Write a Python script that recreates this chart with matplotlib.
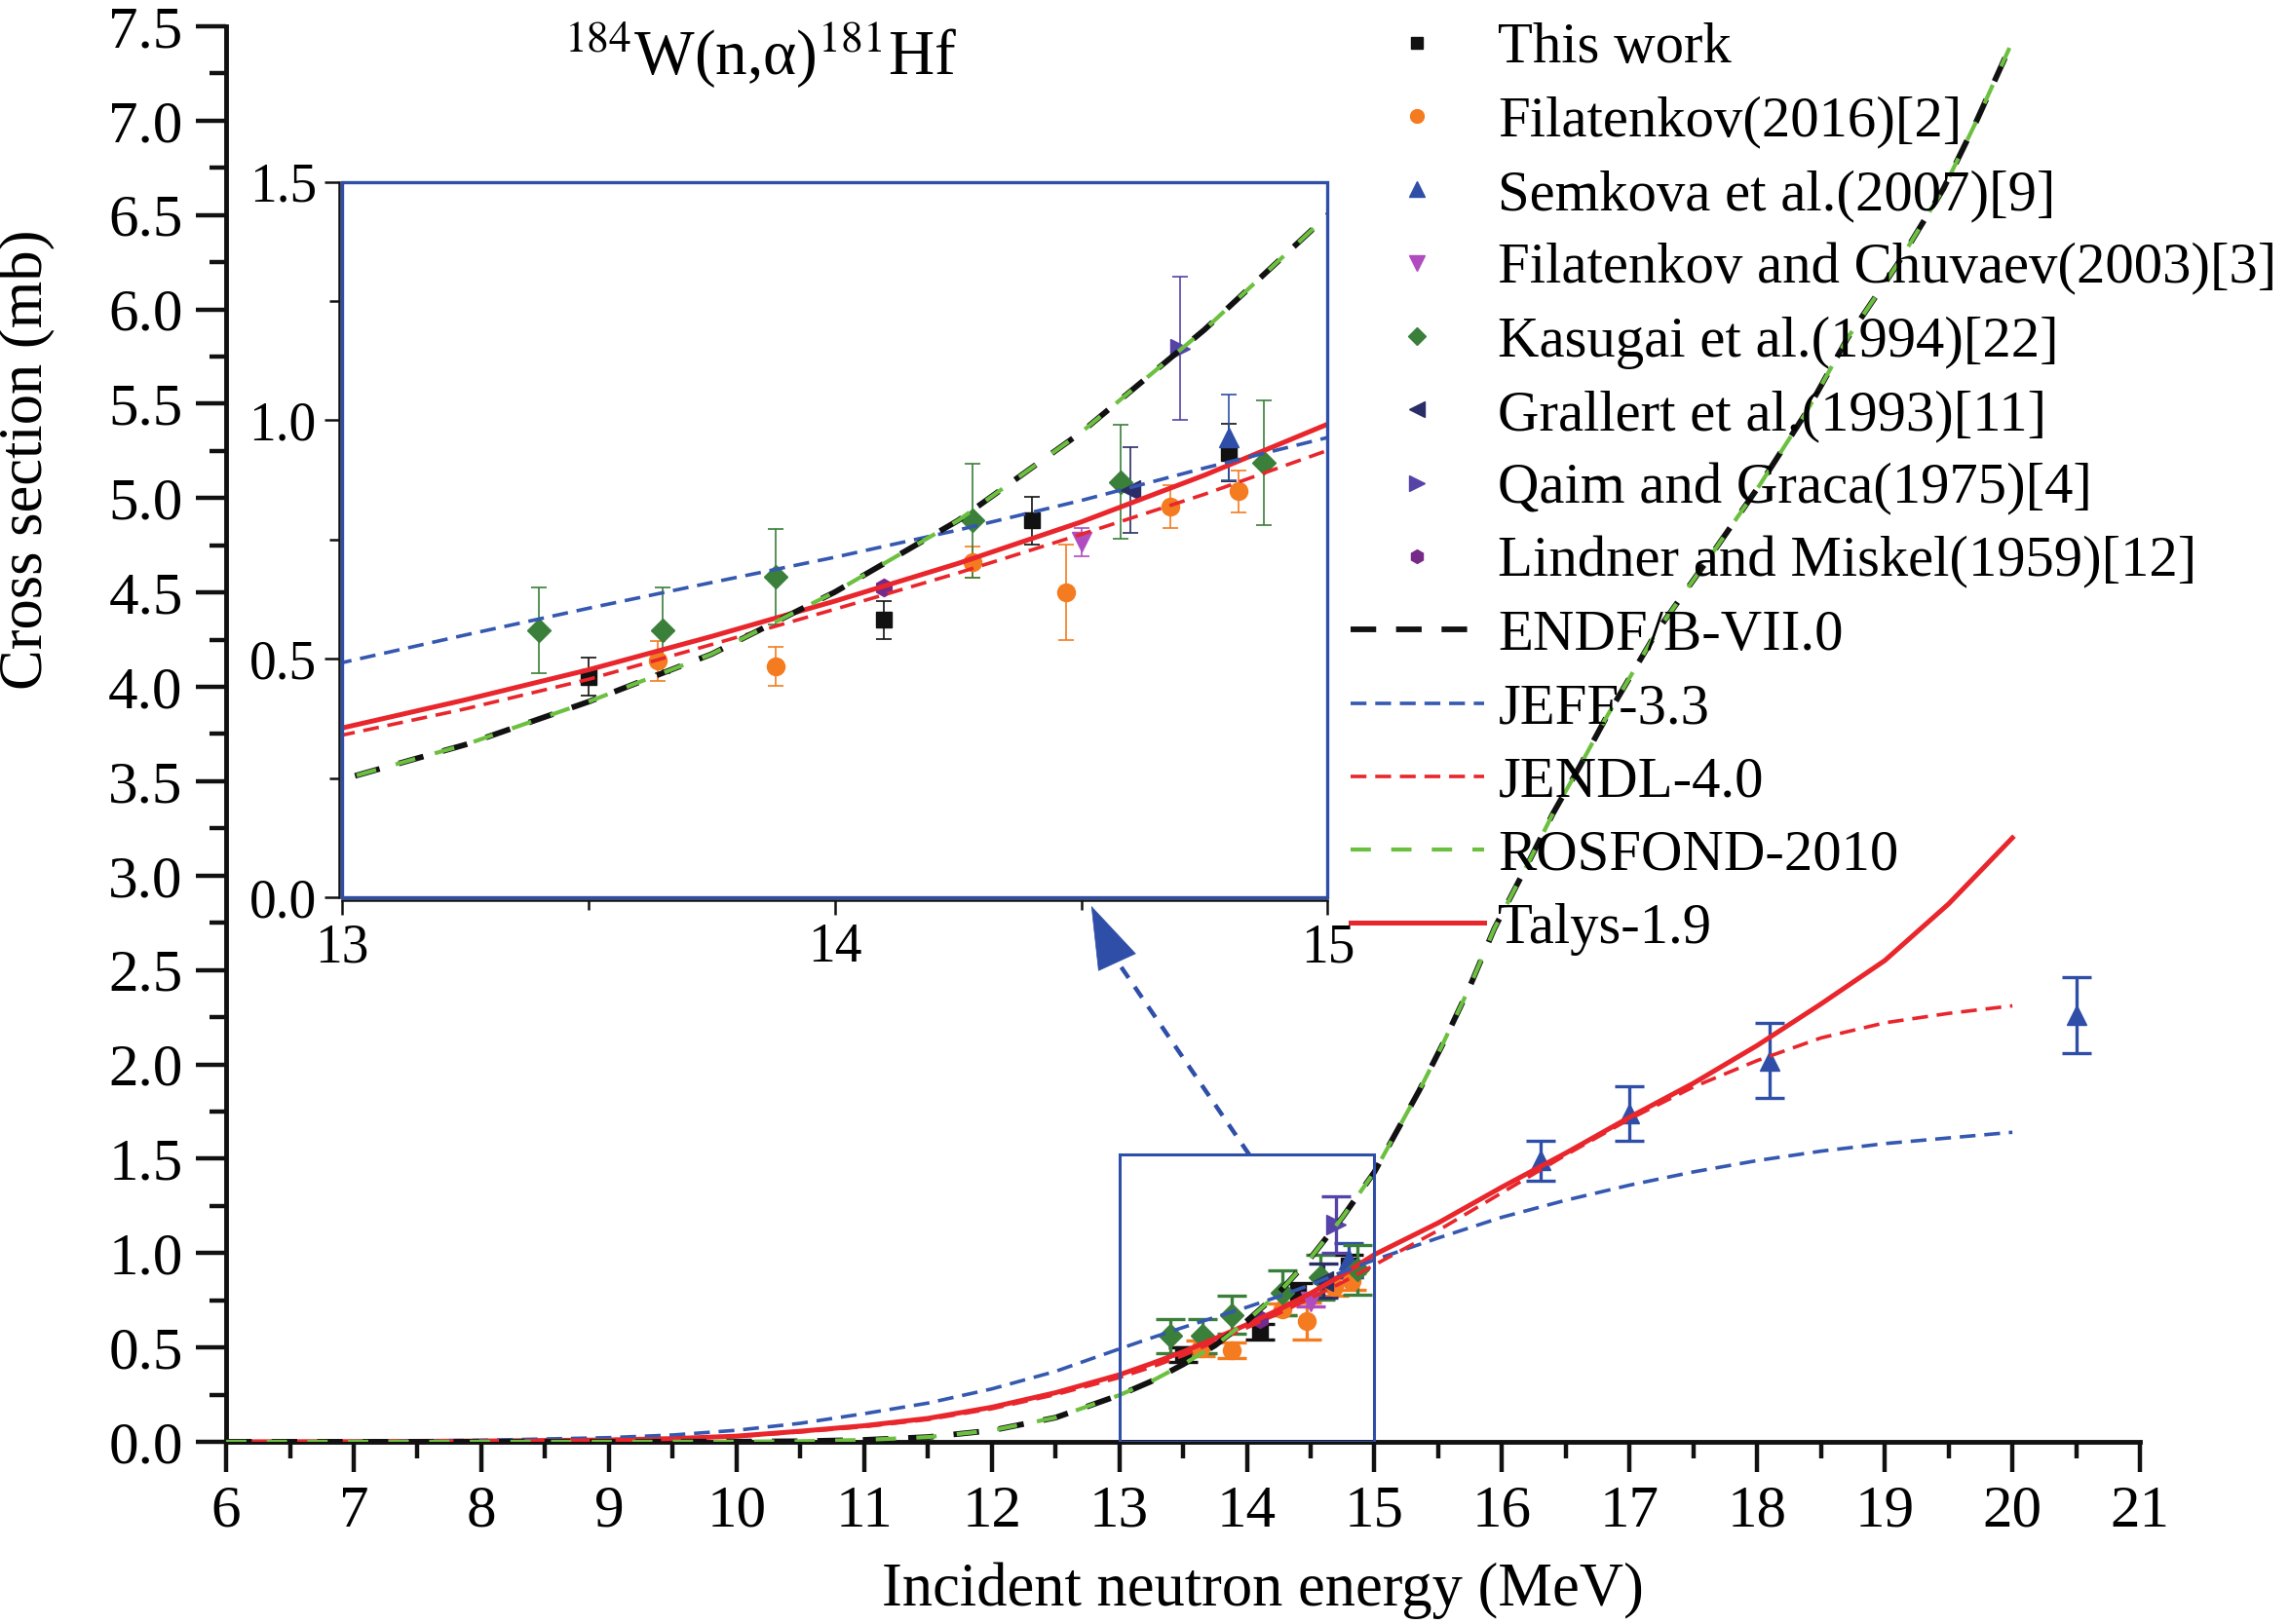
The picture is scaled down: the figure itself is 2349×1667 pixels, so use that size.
import matplotlib
matplotlib.use('Agg')
import matplotlib.pyplot as plt
from matplotlib import font_manager
from matplotlib.lines import Line2D
from matplotlib.patches import Rectangle
from matplotlib.ticker import MultipleLocator, FormatStrFormatter

_avail = {f.name for f in font_manager.fontManager.ttflist}
_serif = [n for n in ['Liberation Serif', 'Tinos', 'Times New Roman', 'Nimbus Roman',
                      'TeX Gyre Termes', 'STIXGeneral', 'Noto Serif', 'DejaVu Serif']
          if n in _avail]
plt.rcParams['font.family'] = _serif + ['DejaVu Sans']
plt.rcParams['mathtext.fontset'] = 'stix'

# ---------------- experimental data ----------------
this_E = [13.50, 14.10, 14.40, 14.80]
this_s = [0.462, 0.582, 0.790, 0.932]
this_err = [0.04, 0.04, 0.05, 0.06]

fil16_E = [13.64, 13.88, 14.28, 14.47, 14.68, 14.82]
fil16_s = [0.496, 0.485, 0.703, 0.640, 0.820, 0.851]
fil16_err = [0.042, 0.041, 0.032, 0.100, 0.045, 0.044]

sem_E = [14.80, 16.30, 17.00, 18.10, 20.50]
sem_s = [0.964, 1.49, 1.74, 2.02, 2.26]
sem_err = [0.09, 0.105, 0.145, 0.20, 0.20]

fc_E = [14.50]
fc_s = [0.745]
fc_err = [0.03]

kas_E = [13.40, 13.65, 13.88, 14.28, 14.58, 14.87]
kas_s = [0.56, 0.56, 0.672, 0.79, 0.871, 0.911]
kas_err = [0.09, 0.09, 0.10, 0.12, 0.12, 0.13]

gra_E = [14.60]
gra_s = [0.853]
gra_err = [0.09]

qai_E = [14.70]
qai_s = [1.151]
qai_err = [0.15]

lin_E = [14.10]
lin_s = [0.65]

# ---------------- evaluated / calculated curves ----------------
endf_E = [6, 9, 10, 10.5, 11, 11.5, 12, 12.5, 13, 13.25, 13.5, 13.75, 14, 14.25,
          14.5, 14.75, 15, 15.35, 15.53, 15.74, 15.94, 16.2, 16.4, 16.61, 16.81,
          17.01, 17.22, 17.63, 18.02, 18.38, 18.71, 19.10, 19.46, 19.72, 20]
endf_s = [0, 0, 0.001, 0.003, 0.01, 0.025, 0.06, 0.128, 0.247, 0.32, 0.41, 0.51,
          0.64, 0.79, 0.975, 1.19, 1.43, 1.86, 2.10, 2.40, 2.72, 3.06, 3.33, 3.58,
          3.83, 4.06, 4.30, 4.69, 5.07, 5.45, 5.85, 6.24, 6.64, 7.00, 7.42]
rosf_E = [6, 9, 10, 10.5, 11, 11.5, 12, 12.5, 13, 13.25, 13.5, 13.75, 14, 14.25,
          14.5, 14.75, 15, 15.35, 15.53, 15.74, 15.94, 16.2, 16.4, 16.61, 16.81,
          17.01, 17.22, 17.63, 18.02, 18.38, 18.71, 19.10, 19.46, 19.72, 20]
rosf_s = [0, 0, 0.001, 0.003, 0.01, 0.025, 0.06, 0.128, 0.247, 0.32, 0.41, 0.51,
          0.64, 0.79, 0.975, 1.19, 1.43, 1.86, 2.10, 2.40, 2.72, 3.06, 3.33, 3.58,
          3.83, 4.06, 4.30, 4.69, 5.07, 5.45, 5.85, 6.24, 6.64, 7.00, 7.42]

grid_E = [6, 7, 8, 9, 9.5, 10, 10.5, 11, 11.5, 12, 12.5, 13, 13.25, 13.5, 13.75,
          14, 14.25, 14.5, 14.75, 15, 15.5, 16, 16.5, 17, 17.5, 18, 18.5, 19, 19.5, 20]
jeff_s = [0, 0.002, 0.008, 0.022, 0.036, 0.061, 0.098, 0.149, 0.205, 0.28, 0.373,
          0.492, 0.55, 0.606, 0.66, 0.713, 0.77, 0.832, 0.90, 0.964, 1.08, 1.19,
          1.28, 1.36, 1.43, 1.49, 1.54, 1.58, 1.61, 1.64]
jendl_s = [0, 0.001, 0.004, 0.01, 0.016, 0.028, 0.052, 0.08, 0.118, 0.175, 0.25,
           0.34, 0.395, 0.457, 0.53, 0.604, 0.68, 0.761, 0.845, 0.937, 1.12, 1.32,
           1.52, 1.71, 1.88, 2.02, 2.14, 2.22, 2.27, 2.31]
talys_s = [0, 0.001, 0.004, 0.01, 0.017, 0.03, 0.056, 0.085, 0.124, 0.183, 0.26,
           0.355, 0.414, 0.477, 0.547, 0.621, 0.70, 0.787, 0.885, 0.992, 1.16, 1.35,
           1.53, 1.72, 1.90, 2.10, 2.32, 2.55, 2.85, 3.20]

legend_labels = ['This work', 'Filatenkov(2016)[2]', 'Semkova et al.(2007)[9]',
                 'Filatenkov and Chuvaev(2003)[3]', 'Kasugai et al.(1994)[22]',
                 'Grallert et al.(1993)[11]', 'Qaim and Graca(1975)[4]',
                 'Lindner and Miskel(1959)[12]', 'ENDF/B-VII.0', 'JEFF-3.3',
                 'JENDL-4.0', 'ROSFOND-2010', 'Talys-1.9']

# ---------------- styles ----------------
C_BLACK = '#111111'
C_ORANGE = '#F47B20'
C_BLUE = '#2F4EA8'
C_MAG = '#B04CC0'
C_GREEN = '#3A7F3A'
C_NAVY = '#2A2D66'
C_QAIM = '#5543A8'
C_PURP = '#762A8A'
C_JEFF = '#3558B0'
C_RED = '#E8262C'
C_ROSF = '#6CC040'

exp_sets = [
    (this_E, this_s, this_err, 's', C_BLACK, 11),
    (fil16_E, fil16_s, fil16_err, 'o', C_ORANGE, 13),
    (sem_E, sem_s, sem_err, '^', C_BLUE, 14),
    (fc_E, fc_s, fc_err, 'v', C_MAG, 14),
    (kas_E, kas_s, kas_err, 'D', C_GREEN, 12),
    (gra_E, gra_s, gra_err, '<', C_NAVY, 14),
    (qai_E, qai_s, qai_err, '>', C_QAIM, 14),
    (lin_E, lin_s, None, 'h', C_PURP, 13),
]


def draw_curves(ax):
    ax.plot(grid_E, talys_s, '-', color=C_RED, lw=3.6, zorder=3)
    ax.plot(grid_E, jeff_s, color=C_JEFF, lw=2.6, dashes=(4.5, 2.5), zorder=4)
    ax.plot(grid_E, jendl_s, color=C_RED, lw=2.6, dashes=(4.5, 2.5), zorder=4)
    ax.plot(endf_E, endf_s, color=C_BLACK, lw=4.2, dashes=(4.5, 3.5), zorder=5)
    ax.plot(rosf_E, rosf_s, color=C_ROSF, lw=3.0, dashes=(5, 5), zorder=6)


def draw_points(ax, capsize, elw):
    for E, s, err, mk, col, ms in exp_sets:
        ax.errorbar(E, s, yerr=err, fmt=mk, color=col, ms=ms,
                    mec=col, mfc=col, ecolor=col, elinewidth=elw,
                    capsize=capsize, capthick=elw, zorder=2)


fig = plt.figure(figsize=(23.49, 16.67), dpi=100)

# ---------------- main axes ----------------
ax = fig.add_axes([0.0988, 0.1122, 0.8361, 0.8716])
draw_curves(ax)
draw_points(ax, capsize=11, elw=2.4)
ax.set_xlim(6, 21)
ax.set_ylim(0, 7.5)
ax.xaxis.set_major_locator(MultipleLocator(1))
ax.xaxis.set_minor_locator(MultipleLocator(0.5))
ax.yaxis.set_major_locator(MultipleLocator(0.5))
ax.yaxis.set_minor_locator(MultipleLocator(0.25))
ax.yaxis.set_major_formatter(FormatStrFormatter('%.1f'))
for sp in ['top', 'right']:
    ax.spines[sp].set_visible(False)
for sp in ['left', 'bottom']:
    ax.spines[sp].set_linewidth(3.5)
    ax.spines[sp].set_color(C_BLACK)
ax.tick_params(which='major', direction='out', length=22, width=3.2,
               labelsize=44, pad=10, color=C_BLACK)
ax.tick_params(which='minor', direction='out', length=12, width=3.2, color=C_BLACK)

# zoom box and arrow
box_x, box_w, box_h = 13.0, 2.0, 1.52
ax.add_patch(Rectangle((box_x, 0), box_w, box_h, fill=False, ec=C_BLUE, lw=2.2, zorder=7))
arrow_start = (14.02, 1.52)
arrow_tip = (12.78, 2.84)
arrow_neck = (12.97, 2.56)
ax.plot([arrow_start[0], arrow_neck[0]], [arrow_start[1], arrow_neck[1]],
        color=C_BLUE, lw=3.2, dashes=(3, 2.5), zorder=7)
ax.annotate('', xy=arrow_tip, xytext=arrow_neck,
            arrowprops=dict(arrowstyle='-|>,head_length=0.9,head_width=0.3',
                            color=C_BLUE, lw=0.5, mutation_scale=50,
                            shrinkA=0, shrinkB=0), zorder=8)

# labels
fig.text(0.5517, 0.0204, 'Incident neutron energy (MeV)', fontsize=45,
         ha='center', va='center')
fig.text(0.012, 0.717, 'Cross section (mb)', fontsize=45, rotation=90,
         ha='center', va='center')
fig.text(0.332, 0.966, r'$^{184}$W(n,α)$^{181}$Hf', fontsize=47,
         ha='center', va='center')

# ---------------- inset ----------------
axi = fig.add_axes([0.1495, 0.4475, 0.4305, 0.4405])
draw_curves(axi)
draw_points(axi, capsize=6, elw=1.2)
axi.set_xlim(13, 15)
axi.set_ylim(0, 1.5)
axi.xaxis.set_major_locator(MultipleLocator(1))
axi.xaxis.set_minor_locator(MultipleLocator(0.5))
axi.yaxis.set_major_locator(MultipleLocator(0.5))
axi.yaxis.set_minor_locator(MultipleLocator(0.25))
axi.yaxis.set_major_formatter(FormatStrFormatter('%.1f'))
for sp in ['top', 'right']:
    axi.spines[sp].set_visible(False)
for sp in ['left', 'bottom']:
    axi.spines[sp].set_linewidth(1.8)
    axi.spines[sp].set_color(C_BLACK)
    axi.spines[sp].set_position(('outward', 2))
axi.tick_params(which='major', direction='out', length=11, width=1.8,
                labelsize=40, pad=6, color=C_BLACK)
axi.tick_params(which='minor', direction='out', length=7, width=1.8, color=C_BLACK)
axi.add_patch(Rectangle((0, 0), 1, 1, transform=axi.transAxes, fill=False,
                        ec=C_BLUE, lw=2.4, clip_on=False, zorder=10))

# ---------------- legend ----------------
handles = [
    Line2D([], [], ls='none', marker='s', color=C_BLACK, ms=9),
    Line2D([], [], ls='none', marker='o', color=C_ORANGE, ms=10),
    Line2D([], [], ls='none', marker='^', color=C_BLUE, ms=11),
    Line2D([], [], ls='none', marker='v', color=C_MAG, ms=11),
    Line2D([], [], ls='none', marker='D', color=C_GREEN, ms=9),
    Line2D([], [], ls='none', marker='<', color=C_NAVY, ms=11),
    Line2D([], [], ls='none', marker='>', color=C_QAIM, ms=11),
    Line2D([], [], ls='none', marker='h', color=C_PURP, ms=10),
    Line2D([], [], color=C_BLACK, lw=4.2, dashes=(4.5, 3.5)),
    Line2D([], [], color=C_JEFF, lw=2.6, dashes=(4.5, 2.5)),
    Line2D([], [], color=C_RED, lw=2.6, dashes=(4.5, 2.5)),
    Line2D([], [], color=C_ROSF, lw=3.0, dashes=(5, 5)),
    Line2D([], [], color=C_RED, lw=3.6),
]
fig.legend(handles, legend_labels, loc='upper left', bbox_to_anchor=(0.590, 0.986),
           frameon=False, fontsize=42.3, labelspacing=0.36, handlelength=2.33,
           handletextpad=0.25, borderpad=0, borderaxespad=0)

fig.savefig('out.png', dpi=100)
